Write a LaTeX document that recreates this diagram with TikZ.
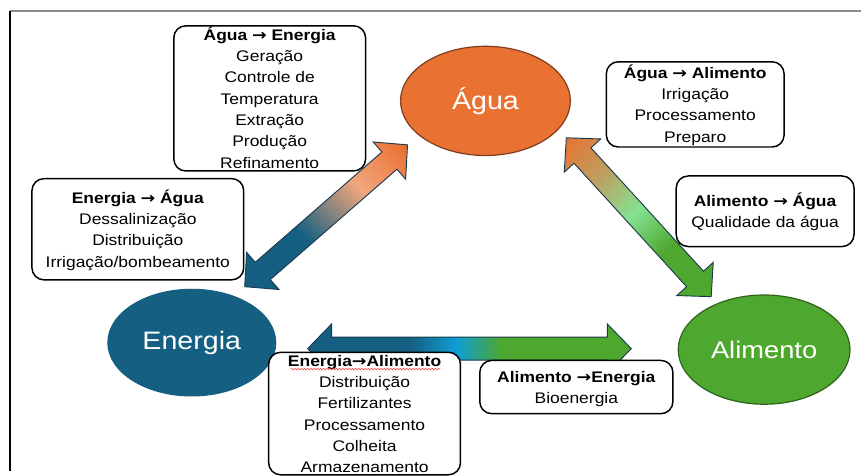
\documentclass[tikz,border=0pt]{standalone}
\usepackage{fontspec}
\setmainfont{Liberation Sans}
\newfontfamily\setafont{DejaVu Sans}
\usepackage{graphicx}
\usetikzlibrary{calc,shapes.geometric,decorations.pathmorphing}

\definecolor{agua}{HTML}{E97132}
\definecolor{energia}{HTML}{156082}
\definecolor{alimento}{HTML}{4EA72E}
\definecolor{salmao}{HTML}{F2A67C}
\definecolor{bronze}{HTML}{BDA060}
\definecolor{verdeclaro}{HTML}{84E291}
\definecolor{azulclaro}{HTML}{0F9ED5}
\definecolor{contorno}{HTML}{1B3A4F}
\definecolor{moldura}{HTML}{8C8C8C}

% gradientes das setas
\pgfdeclarehorizontalshading{energiaagua}{100bp}{color(0bp)=(energia); color(40bp)=(energia);
  color(64bp)=(salmao); color(84bp)=(agua); color(100bp)=(agua)}
\pgfdeclarehorizontalshading{aguaalimento}{100bp}{color(0bp)=(agua); color(17bp)=(agua!85!bronze);
  color(32bp)=(bronze); color(48bp)=(verdeclaro); color(64bp)=(alimento); color(100bp)=(alimento)}
\pgfdeclarehorizontalshading{energiaalimento}{100bp}{color(0bp)=(energia); color(41bp)=(energia);
  color(48bp)=(azulclaro); color(55bp)=(alimento); color(100bp)=(alimento)}

% seta dupla de ponta a ponta
\newcommand\pontacomp{18pt}
\newcommand\pontalarg{18.5pt}
\newcommand\hastelarg{8.6pt}
\newcommand\setadupla[2]{(#1)
  -- ($(#1)!\pontacomp!(#2)!\pontalarg!90:(#2)$) -- ($(#1)!\pontacomp!(#2)!\hastelarg!90:(#2)$)
  -- ($(#2)!\pontacomp!(#1)!\hastelarg!-90:(#1)$) -- ($(#2)!\pontacomp!(#1)!\pontalarg!-90:(#1)$)
  -- (#2)
  -- ($(#2)!\pontacomp!(#1)!\pontalarg!90:(#1)$) -- ($(#2)!\pontacomp!(#1)!\hastelarg!90:(#1)$)
  -- ($(#1)!\pontacomp!(#2)!\hastelarg!-90:(#2)$) -- ($(#1)!\pontacomp!(#2)!\pontalarg!-90:(#2)$)
  -- cycle}

% texto achatado como na figura
\newcommand\achatado[1]{\scalebox{1}[0.88]{#1}}
\newcommand\caixatexto[1]{\smash{\raisebox{-3.8pt}{\achatado{\begin{tabular}{@{}c@{}}#1\end{tabular}}}}}
\newcommand\seta{{\setafont →}}

\begin{document}
\begin{tikzpicture}[x=0.75pt,y=-0.75pt,
  caixa/.style={draw=black, line width=1.1pt, fill=white, rounded corners=9pt,
    font=\fontsize{13.1}{18.2}\selectfont},
  bola/.style={ellipse, inner sep=0pt, line width=0.9pt, text=white},
  seta/.style={draw=contorno, line width=0.7pt}]

\fill[white] (0,0) rectangle (862,472);
\draw[moldura, line width=1.5pt] (10,11) -- (862,11);
\draw[black, line width=0.8pt] (10,11) -- (10,472);

% pontas das setas
\coordinate (ea-e) at (245,287);
\coordinate (ea-a) at (408,145);
\coordinate (al-a) at (567,138);
\coordinate (al-l) at (712,297);
\coordinate (el-e) at (308,349);
\coordinate (el-l) at (632,349);

\shadedraw[seta, shading=energiaagua, shading angle=45] \setadupla{ea-e}{ea-a};
\shadedraw[seta, shading=aguaalimento, shading angle=-45] \setadupla{al-a}{al-l};
\shadedraw[seta, shading=energiaalimento, shading angle=0] \setadupla{el-e}{el-l};

% os tres recursos
\node[bola, fill=agua, draw=agua!55!black, minimum width=127.5pt, minimum height=82pt,
  font=\fontsize{21.5}{25}\selectfont] (agua) at (486,101) {\achatado{Água}};
\node[bola, fill=energia, draw=energia, minimum width=126pt, minimum height=80pt,
  font=\fontsize{21.5}{25}\selectfont] (energia) at (192,343) {\achatado{Energia}};
\node[bola, fill=alimento, draw=alimento!60!black, minimum width=129pt, minimum height=82pt,
  font=\fontsize{20.5}{25}\selectfont] (alimento) at (765,350) {\achatado{Alimento}};

% caixas de texto
\node[caixa, minimum width=144pt, minimum height=109pt] (aguaenergia) at (270,98.5)
  {\caixatexto{\textbf{Água \seta{} Energia}\\Geração\\Controle de\\Temperatura\\Extração\\Produção\\Refinamento}};
\node[caixa, minimum width=159pt, minimum height=76pt] (energiaagua) at (138,229.5)
  {\caixatexto{\textbf{Energia \seta{} Água}\\Dessalinização\\Distribuição\\Irrigação/bombeamento}};
\node[caixa, minimum width=133.5pt, minimum height=64pt] (aguaalimento) at (696,104.5)
  {\caixatexto{\textbf{Água \seta{} Alimento}\\Irrigação\\Processamento\\Preparo}};
\node[caixa, minimum width=133.5pt, minimum height=53pt] (alimentoagua) at (766,211.5)
  {\caixatexto{\textbf{Alimento \seta{} Água}\\Qualidade da água}};
\node[caixa, minimum width=144pt, minimum height=92pt] (energiaalimento) at (365,414)
  {\caixatexto{\textbf{Energia\seta{}Alimento}\\Distribuição\\Fertilizantes\\Processamento\\Colheita\\Armazenamento}};
\node[caixa, minimum width=145pt, minimum height=40pt] (alimentoenergia) at (577,387.5)
  {\caixatexto{\textbf{Alimento \seta{}Energia}\\Bioenergia}};

\draw[red!80, line width=0.4pt, decorate, decoration={snake, amplitude=0.5pt, segment length=2.4pt}]
  (291,369.5) -- (441,369.5);
\end{tikzpicture}
\end{document}
